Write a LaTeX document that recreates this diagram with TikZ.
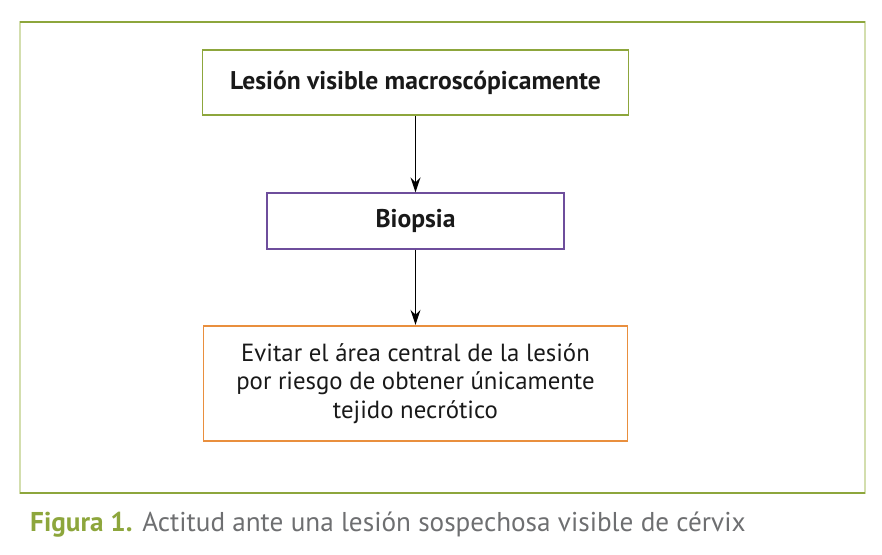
\documentclass[tikz,border=0pt]{standalone}
\usepackage{fontspec}
\setmainfont{PT Sans}
\usetikzlibrary{
    positioning,
    arrows.meta
}
\definecolor{verde}{HTML}{8DA63C}
\definecolor{verdeclaro}{HTML}{D3DEAE}
\definecolor{morado}{HTML}{6E4E9C}
\definecolor{naranja}{HTML}{E98F3E}
\definecolor{gristexto}{HTML}{6E6F71}
\tikzset{
    >={Stealth[length=15pt,width=10pt]},
    caja/.style={
        draw,
        line width=1.7pt,
        align=center,
        inner sep=0pt,
        text=black!90,
        font=\fontsize{24.8}{28.5}\selectfont
    }
}

\begin{document}
\begin{tikzpicture}[
    x=1pt,
    y=-1pt
]
    \useasboundingbox (0,0) rectangle (882,554);

    % Marco
    \draw[verdeclaro, line width=1.4pt] (20,22) rectangle (865,493);
    \draw[verde, line width=1.4pt] (20,22) -- (865,22) (20,493) -- (865,493);

    % Cajas
    \node[caja, draw=verde, minimum width=426, minimum height=65,
          font=\fontsize{25.6}{28.5}\selectfont\bfseries]
        (lesion) at (415.5,82.5) {Lesión visible macroscópicamente};
    \node[caja, draw=morado, minimum width=297, minimum height=55.5,
          font=\fontsize{25.6}{28.5}\selectfont\bfseries]
        (biopsia) at (415.5,221) {Biopsia};
    \node[caja, draw=naranja, minimum width=424, minimum height=115]
        (evitar) at (415.5,383.2)
        {Evitar el área central de la lesión\\
         por riesgo de obtener únicamente\\
         tejido necrótico};

    % Flechas
    \draw[->, line width=1.5pt] (lesion) -- (biopsia);
    \draw[->, line width=1.5pt] (biopsia) -- (evitar);

    % Pie
    \node[anchor=base west, inner sep=0pt, font=\fontsize{27.2}{32}\selectfont]
        (pie) at (30,531.7)
        {\textcolor{verde}{\bfseries Figura 1.} \textcolor{gristexto}{Actitud ante una lesión sospechosa visible de cérvix}};

\end{tikzpicture}
\end{document}
